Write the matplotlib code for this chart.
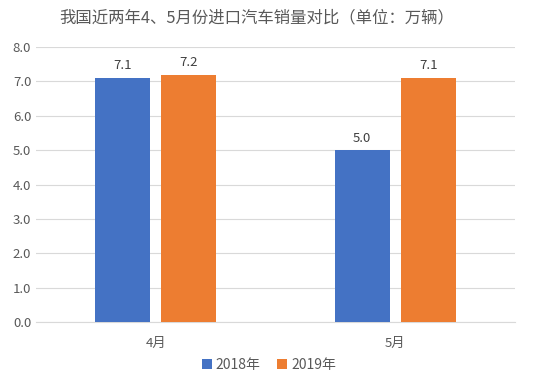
import matplotlib
matplotlib.use('Agg')
import matplotlib.pyplot as plt
import numpy as np

plt.rcParams['font.family'] = ['Noto Sans CJK SC', 'DejaVu Sans']

# data
months = ['4月', '5月']
series = ['2018年', '2019年']
sales_2018 = [7.1, 5.0]
sales_2019 = [7.2, 7.1]
colors = ['#4472C4', '#ED7D31']

fig = plt.figure(figsize=(5.38, 3.86), dpi=100)
ax = fig.add_axes([0.067, 0.166, 0.89, 0.712])

x = np.arange(len(months))
w = 0.23
off = 0.138
b1 = ax.bar(x - off, sales_2018, w, color=colors[0], label=series[0], zorder=3)
b2 = ax.bar(x + off, sales_2019, w, color=colors[1], label=series[1], zorder=3)

for bars in (b1, b2):
    for rect in bars:
        ax.annotate('{:.1f}'.format(rect.get_height()),
                    (rect.get_x() + rect.get_width() / 2, rect.get_height()),
                    xytext=(0, 4), textcoords='offset points',
                    ha='center', va='bottom', fontsize=9.5, color='#404040')

ax.set_xlim(-0.5, 1.5)
ax.set_ylim(0, 8)
ax.set_yticks(np.arange(0, 8.1, 1.0))
ax.set_yticklabels(['{:.1f}'.format(v) for v in np.arange(0, 8.1, 1.0)])
ax.set_xticks(x)
ax.set_xticklabels(months)
ax.tick_params(axis='both', length=0, labelsize=9.5, colors='#595959')
ax.tick_params(axis='x', pad=11)
ax.grid(axis='y', color='#D9D9D9', linewidth=0.8, zorder=0)
for s in ['top', 'right', 'left']:
    ax.spines[s].set_visible(False)
ax.spines['bottom'].set_color('#D9D9D9')

fig.suptitle('我国近两年4、5月份进口汽车销量对比（单位：万辆）', x=0.478, y=0.975,
             fontsize=11.8, color='#595959')

fig.legend(loc='center', bbox_to_anchor=(0.5, 0.055), ncol=2, frameon=False,
           fontsize=10, handlelength=0.7, handleheight=0.7, handletextpad=0.3,
           columnspacing=1.2, labelcolor='#595959')

fig.savefig('out.png', dpi=100)
